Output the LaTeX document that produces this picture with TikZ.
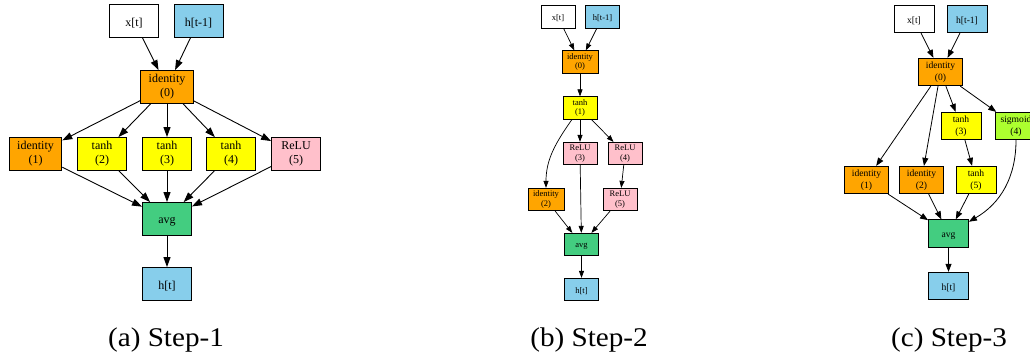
\documentclass[tikz,border=0pt]{standalone}
\usepackage{fontspec}
\setmainfont{Liberation Serif}
\usetikzlibrary{arrows.meta,positioning}

\definecolor{skyblue}{RGB}{135,206,235}
\definecolor{orange}{RGB}{255,165,0}
\definecolor{yellow}{RGB}{255,255,0}
\definecolor{pink}{RGB}{255,192,203}
\definecolor{seagreen}{RGB}{67,205,128}
\definecolor{greenyellow}{RGB}{173,255,47}

\begin{document}
\begin{tikzpicture}[x=1pt, y=-1pt,
        op/.style={rectangle, draw, align=center, inner sep=0pt, execute at begin node={\rule{0pt}{1em}}},
        big/.style={op, line width=0.9pt, minimum width=49pt, minimum height=33pt, inner xsep=8pt, font=\fontsize{12}{14}\selectfont},
        small/.style={op, line width=0.7pt, minimum width=34pt, minimum height=22.5pt, inner xsep=5pt, font=\fontsize{8.5}{9.5}\selectfont},
        mid/.style={op, line width=0.8pt, minimum width=40pt, minimum height=27.5pt, inner xsep=7pt, font=\fontsize{9.6}{11.6}\selectfont},
        arrowA/.style={draw, line width=0.9pt, -{Triangle[length=10pt, width=7pt]}},
        arrowB/.style={draw, line width=0.7pt, -{Triangle[length=7pt, width=5pt]}},
        arrowC/.style={draw, line width=0.8pt, -{Triangle[length=8pt, width=6pt]}},
        caption/.style={draw=none, fill=none, font=\fontsize{27}{27}\selectfont, xscale=1.08, transform shape}
    ]
    \useasboundingbox (0,0) rectangle (1030,355);
    \clip (0,0) rectangle (1030,355);

    % Step-1 nodes
    \node[big] (ax) at (134,21) {x[t]};
    \node[big, fill=skyblue] (ah) at (198.5,21) {h[t-1]};
    \node[big, fill=orange] (a0) at (167,87) {identity\\(0)};
    \node[big, fill=orange] (a1) at (35.5,154) {identity\\(1)};
    \node[big, fill=yellow] (a2) at (102,154) {tanh\\(2)};
    \node[big, fill=yellow] (a3) at (167,154) {tanh\\(3)};
    \node[big, fill=yellow] (a4) at (231,154) {tanh\\(4)};
    \node[big, fill=pink] (a5) at (296,154) {ReLU\\(5)};
    \node[big, fill=seagreen] (aavg) at (167,219) {avg};
    \node[big, fill=skyblue] (aout) at (167,284) {h[t]};

    % Step-1 arrows
    \foreach \s in {ax,ah}
        \draw[arrowA] (\s) -- (a0);
    \foreach \t in {a1,a2,a3,a4,a5} {
        \draw[arrowA] (a0) -- (\t);
        \draw[arrowA] (\t) -- (aavg);
    }
    \draw[arrowA] (aavg) -- (aout);

    % Step-2 nodes
    \node[small] (bx) at (558,17) {x[t]};
    \node[small, fill=skyblue] (bh) at (602.5,17) {h[t-1]};
    \node[small, fill=orange] (b0) at (580,62) {identity\\(0)};
    \node[small, fill=yellow] (b1) at (580,108) {tanh\\(1)};
    \node[small, fill=pink] (b3) at (580,153.5) {ReLU\\(3)};
    \node[small, fill=pink] (b4) at (625,153.5) {ReLU\\(4)};
    \node[small, fill=orange] (b2) at (546,199.5) {identity\\(2)};
    \node[small, fill=pink] (b5) at (620,199.5) {ReLU\\(5)};
    \node[small, fill=seagreen] (bavg) at (581.5,244.5) {avg};
    \node[small, fill=skyblue] (bout) at (581.5,289.5) {h[t]};

    % Step-2 arrows
    \draw[arrowB] (bx) -- (b0);
    \draw[arrowB] (bh) -- (b0);
    \draw[arrowB] (b0) -- (b1);
    \draw[arrowB] (b1) -- (b3);
    \draw[arrowB] (b1) -- (b4);
    \draw[arrowB] (b1) to[out=-125, in=90] (b2);
    \draw[arrowB] (b4) -- (b5);
    \foreach \s in {b2,b3,b5}
        \draw[arrowB] (\s) -- (bavg);
    \draw[arrowB] (bavg) -- (bout);

    % Step-3 nodes
    \node[mid] (cx) at (914,19) {x[t]};
    \node[mid, fill=skyblue] (ch) at (967,19) {h[t-1]};
    \node[mid, fill=orange] (c0) at (940.5,72) {identity\\(0)};
    \node[mid, fill=yellow] (c3) at (961,126) {tanh\\(3)};
    \node[mid, fill=greenyellow, inner xsep=5pt] (c4) at (1016,126) {sigmoid\\(4)};
    \node[mid, fill=orange] (c1) at (866.5,180) {identity\\(1)};
    \node[mid, fill=orange] (c2) at (921.5,180) {identity\\(2)};
    \node[mid, fill=yellow] (c5) at (976,180) {tanh\\(5)};
    \node[mid, fill=seagreen] (cavg) at (948.5,233.5) {avg};
    \node[mid, fill=skyblue] (cout) at (948.5,286) {h[t]};

    % Step-3 arrows
    \draw[arrowC] (cx) -- (c0);
    \draw[arrowC] (ch) -- (c0);
    \foreach \t in {c1,c2,c3,c4}
        \draw[arrowC] (c0) -- (\t);
    \draw[arrowC] (c3) -- (c5);
    \foreach \s in {c1,c2,c5}
        \draw[arrowC] (\s) -- (cavg);
    \draw[arrowC] (c4) to[out=-90, in=30] (cavg);
    \draw[arrowC] (cavg) -- (cout);

    % Captions
    \node[caption] (capa) at (166,340) {(a) Step-1};
    \node[caption] (capb) at (589,340) {(b) Step-2};
    \node[caption] (capc) at (949,340) {(c) Step-3};

\end{tikzpicture}
\end{document}
